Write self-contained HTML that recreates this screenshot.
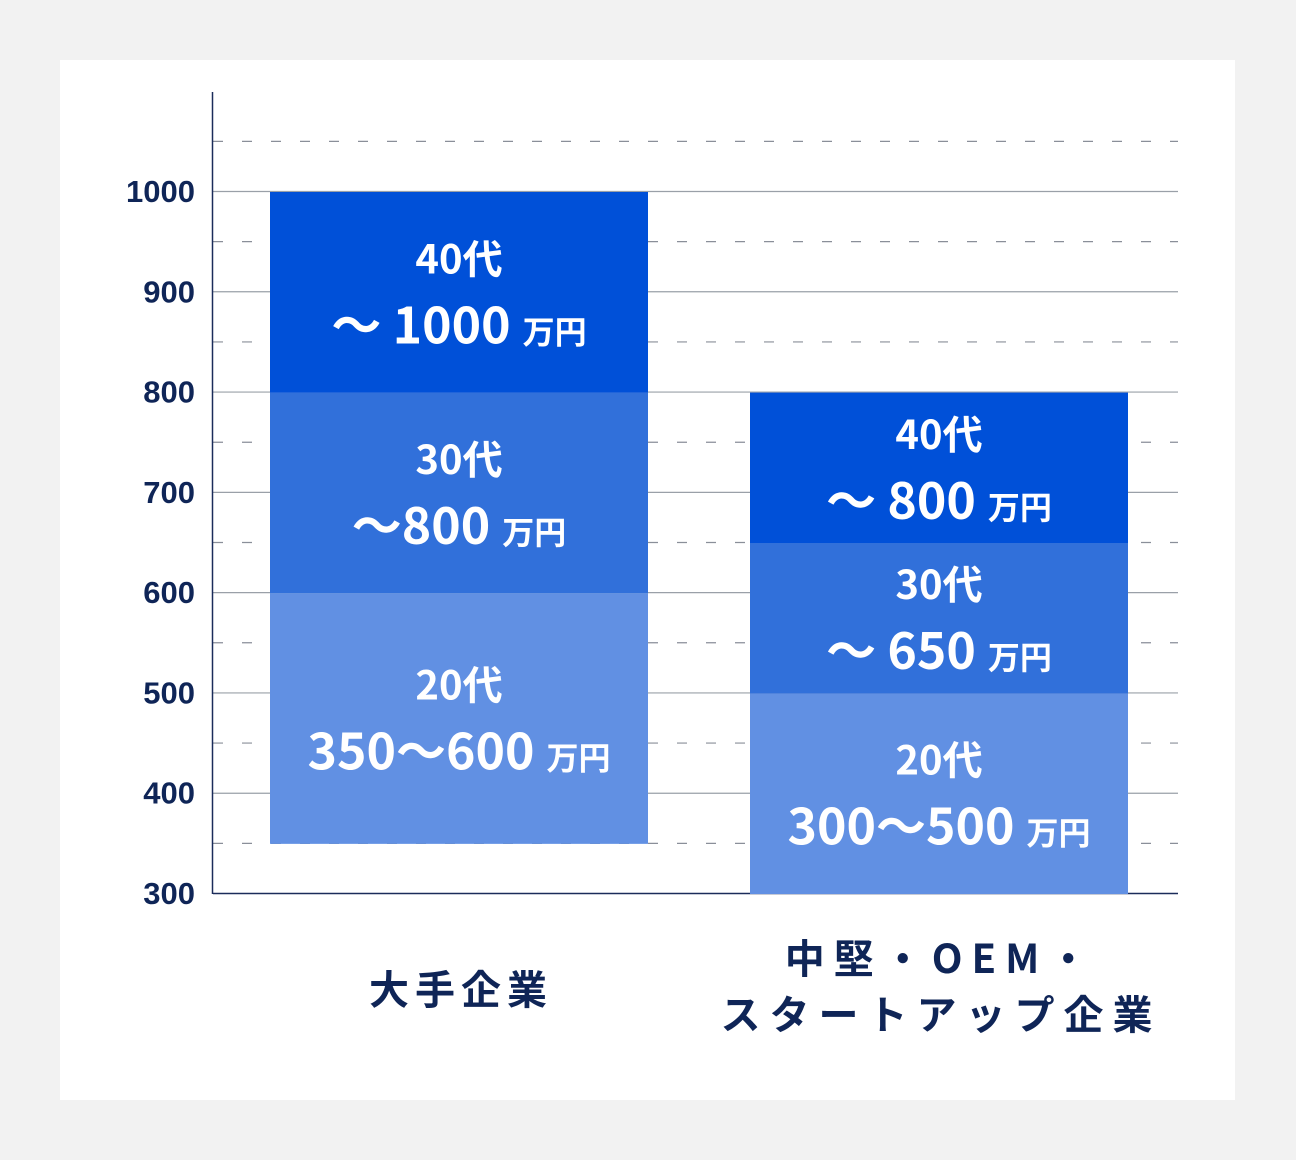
<!DOCTYPE html>
<html><head><meta charset="utf-8"><style>
html,body{margin:0;padding:0;background:#f2f2f2;}
svg{display:block;}
text{font-family:"Liberation Sans","Noto Sans CJK JP",sans-serif;font-weight:bold;}
.jp{font-family:"Noto Sans CJK JP","Liberation Sans",sans-serif;}
</style></head><body>
<svg id="chart" width="1296" height="1160" viewBox="0 0 1296 1160">
<rect x="0" y="0" width="1296" height="1160" fill="#f2f2f2"/>
<rect x="60" y="60" width="1175" height="1040" fill="#ffffff"/>
<g id="grid"></g><g id="bars"></g><g id="labels"></g>
<line x1="212.5" y1="92" x2="212.5" y2="894" stroke="#1b2c5a" stroke-width="1.5"/>
</svg>
<script>
const categories = ["大手企業", "中堅・OEM・\nスタートアップ企業"];
const segStarts = [[350, 600, 800], [300, 500, 650]];
const segEnds = [[600, 800, 1000], [500, 650, 800]];
const segAges = ["20代", "30代", "40代"];
const segText = [["350〜600", "〜800", "〜 1000"], ["300〜500", "〜 650", "〜 800"]];
const yTicks = [300, 400, 500, 600, 700, 800, 900, 1000];
const yDashed = [350, 450, 550, 650, 750, 850, 950, 1050];

const NS = "http://www.w3.org/2000/svg";
const y = v => 893 - (v - 300) * (702 / 700);
const bandX = i => [270, 750][i];
const barW = 378;
const colors = ["#6190e3", "#3170da", "#0050d8"];
function mk(tag, attrs, parent) {
  const e = document.createElementNS(NS, tag);
  for (const k in attrs) e.setAttribute(k, attrs[k]);
  parent.appendChild(e);
  return e;
}
const grid = document.getElementById("grid");
const bars = document.getElementById("bars");
const labels = document.getElementById("labels");
yDashed.forEach(v => {
  const l = mk("line", {x1: 213, x2: 1178, y1: y(v) + 0.5, y2: y(v) + 0.5, stroke: "#8a8f99", "stroke-width": 1.2, "stroke-dasharray": "10 19"}, grid);
  
  
});
yTicks.forEach(v => {
  const l = mk("line", {x1: 213, x2: 1178, y1: y(v) + 0.5, y2: y(v) + 0.5, stroke: v === 300 ? "#1b2c5a" : "#9aa0a8", "stroke-width": v === 300 ? 1.5 : 1.2}, grid);
  
  
  const t = mk("text", {x: 195, y: y(v) + 11, "text-anchor": "end", "font-size": 31, fill: "#0f2557"}, labels);
  t.textContent = v;
  
  
});
categories.forEach((c, i) => {
  const cx = bandX(i) + barW / 2;
  segStarts[i].forEach((s, j) => {
    const e = segEnds[i][j];
    const r = mk("rect", {x: bandX(i), y: y(e) + 1, width: barW, height: y(s) - y(e), fill: colors[j]}, bars);
    
    
    const mid = (y(s) + y(e)) / 2;
    const t1 = mk("text", {x: cx, y: mid - 18, "text-anchor": "middle", "font-size": 40, fill: "#fff", class: "jp"}, labels);
    t1.textContent = segAges[j];
    
    
    const t2 = mk("text", {x: cx, y: mid + 52, "text-anchor": "middle", "font-size": 50, fill: "#fff", class: "jp"}, labels);
    
    
    const a = mk("tspan", {}, t2); a.textContent = segText[i][j];
    const b = mk("tspan", {"font-size": 32, dx: 12}, t2); b.textContent = "万円";
  });
  const lines = c.split("\n");
  lines.forEach((ln, k) => {
    const t = mk("text", {x: cx + 2, y: (lines.length === 1 ? 1004 : 973 + k * 56), "text-anchor": "middle", "font-size": 40, fill: "#0f2557", "letter-spacing": lines.length === 1 ? 6 : 9, class: "jp"}, labels);
    t.textContent = ln;
    
    
  });
});
</script>
</body></html>
